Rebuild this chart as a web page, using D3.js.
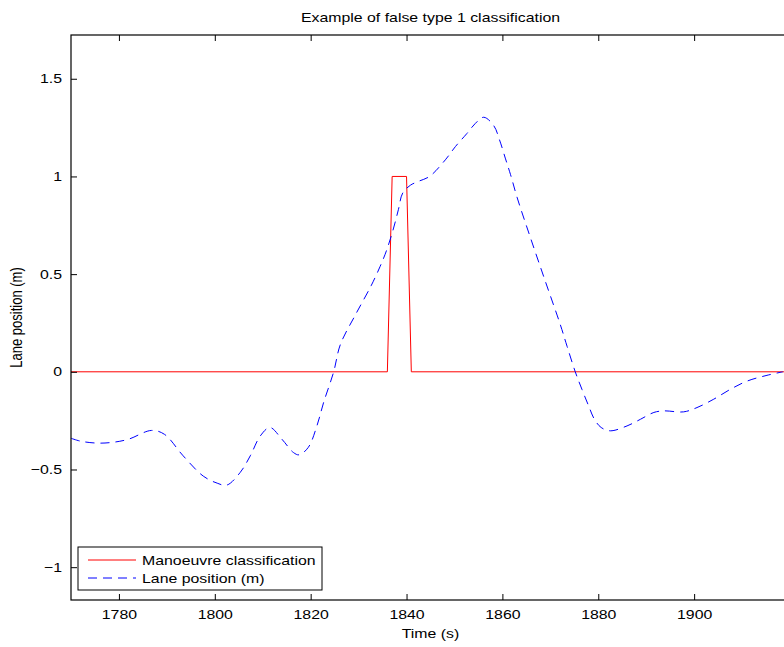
<!DOCTYPE html>
<html>
<head>
<meta charset="utf-8">
<script src="https://cdn.jsdelivr.net/npm/d3@7"></script>
<style>
  html, body { margin: 0; padding: 0; background: #fff; }
  svg { display: block; font-family: "Liberation Sans", Arial, Helvetica, sans-serif; }
</style>
</head>
<body>
<svg id="chart" width="784" height="647"></svg>
<script>
// Manoeuvre classification (0/1), given at its change points (1 s sampling)
const classTimes  = [1770, 1836, 1837, 1840, 1841, 1920];
const classValues = [0, 0, 1, 1, 0, 0];

// Lateral lane position (m) over time (s)
const laneTimes = [1770, 1772, 1775.6, 1779, 1782, 1786.8, 1789.5, 1793.4, 1797.6, 1800.5, 1802.5,
  1805.3, 1807.4, 1809.5, 1811.5, 1814, 1816.4, 1817.6, 1819.5, 1821.3, 1822.7, 1824.8,
  1826.2, 1829.3, 1832.6, 1834.5, 1835.9, 1837.3, 1838.3, 1839.2, 1840.8, 1842.5, 1844.8,
  1848.1, 1850.2, 1852.6, 1854.3, 1856.1, 1858.2, 1859.4, 1860.6, 1861.7, 1863.1, 1865.8,
  1869, 1872.1, 1873.5, 1875.2, 1876.6, 1878, 1879.2, 1880.6, 1882.5, 1886, 1888.8, 1891.6,
  1893.7, 1897.8, 1900.6, 1904.1, 1907.6, 1911.1, 1915.2, 1918.5];
const laneValues = [-0.34, -0.355, -0.365, -0.36, -0.345, -0.30, -0.32, -0.43, -0.534, -0.57, -0.58,
  -0.515, -0.43, -0.328, -0.285, -0.345, -0.413, -0.425, -0.387, -0.277, -0.157, 0,
  0.14, 0.29, 0.44, 0.54, 0.626, 0.736, 0.83, 0.915, 0.955, 0.975, 1.0,
  1.085, 1.153, 1.22, 1.27, 1.303, 1.26, 1.187, 1.094, 1.009, 0.89, 0.69,
  0.46, 0.24, 0.13, 0, -0.09, -0.175, -0.243, -0.285, -0.302, -0.277, -0.243, -0.208,
  -0.2, -0.205, -0.183, -0.14, -0.089, -0.047, -0.018, 0];

const xTicks = [1780, 1800, 1820, 1840, 1860, 1880, 1900];
const yTicks = [-1, -0.5, 0, 0.5, 1, 1.5];
const yTickLabels = ["\u22121", "\u22120.5", "0", "0.5", "1", "1.5"];

const titleText = "Example of false type 1 classification";
const xLabel = "Time (s)";
const yLabel = "Lane position (m)";
const legendLabels = ["Manoeuvre classification", "Lane position (m)"];

const svg = d3.select("#chart");
const box = { left: 71, right: 790, top: 35, bottom: 600 };

// Text is drawn slightly widened horizontally, like the figure's typeface
const fontSize = 13;
const stretch = 1.22;

const x = d3.scaleLinear().domain([1770, 1920]).range([box.left, box.right]);
const y = d3.scaleLinear().domain([-1.168, 1.724]).range([box.bottom, box.top]);

// Clip region for the plotted series
svg.append("defs").append("clipPath").attr("id", "plotClip")
  .append("rect").attr("x", box.left).attr("y", box.top)
  .attr("width", box.right - box.left).attr("height", box.bottom - box.top);

const plot = svg.append("g").attr("clip-path", "url(#plotClip)");

const line = d3.line().x(d => x(d[0])).y(d => y(d[1]));

plot.append("path")
  .datum(classTimes.map((t, i) => [t, classValues[i]]))
  .attr("d", line)
  .attr("fill", "none")
  .attr("stroke", "#ff0000")
  .attr("stroke-width", 1);

plot.append("path")
  .datum(laneTimes.map((t, i) => [t, laneValues[i]]))
  .attr("d", line.curve(d3.curveCatmullRom.alpha(0.5)))
  .attr("fill", "none")
  .attr("stroke", "#0000ff")
  .attr("stroke-width", 1)
  .attr("stroke-dasharray", "9,6");

// Axes: ticks inward on all four sides
const tickLen = 6;

const xAxisB = d3.axisBottom(x).tickValues(xTicks).tickSize(-tickLen).tickPadding(10)
  .tickFormat(d3.format("d"));
const xAxisT = d3.axisTop(x).tickValues(xTicks).tickSize(-tickLen).tickFormat("");
const yAxisL = d3.axisLeft(y).tickValues(yTicks).tickSize(-tickLen).tickPadding(9 / stretch)
  .tickFormat((d, i) => yTickLabels[i]);
const yAxisR = d3.axisRight(y).tickValues(yTicks).tickSize(-tickLen).tickFormat("");

function styleAxis(g) {
  g.select(".domain").remove();
  g.selectAll(".tick line").attr("stroke", "#000").attr("stroke-width", 1);
  g.selectAll(".tick text").attr("fill", "#000").attr("font-size", fontSize)
    .attr("font-family", "Liberation Sans, Arial, sans-serif")
    .attr("transform", `scale(${stretch},1)`);
}

svg.append("g").attr("transform", `translate(0,${box.bottom})`).call(xAxisB).call(styleAxis);
svg.append("g").attr("transform", `translate(0,${box.top})`).call(xAxisT).call(styleAxis);
svg.append("g").attr("transform", `translate(${box.left},0)`).call(yAxisL).call(styleAxis);
svg.append("g").attr("transform", `translate(${box.right},0)`).call(yAxisR).call(styleAxis);

// Axes box
svg.append("rect")
  .attr("x", box.left).attr("y", box.top)
  .attr("width", box.right - box.left).attr("height", box.bottom - box.top)
  .attr("fill", "none").attr("stroke", "#000").attr("stroke-width", 1.2);

// Title and axis labels
const midX = (box.left + box.right) / 2;
svg.append("text")
  .attr("transform", `translate(${midX},22) scale(${stretch},1)`)
  .attr("text-anchor", "middle").attr("font-size", fontSize)
  .text(titleText);

svg.append("text")
  .attr("transform", `translate(${midX},638) scale(${stretch},1)`)
  .attr("text-anchor", "middle").attr("font-size", fontSize)
  .text(xLabel);

svg.append("text")
  .attr("transform", `translate(22,${(box.top + box.bottom) / 2}) scale(${stretch},1) rotate(-90)`)
  .attr("text-anchor", "middle").attr("font-size", fontSize)
  .text(yLabel);

// Legend
const legend = svg.append("g").attr("transform", "translate(78,547)");
legend.append("rect")
  .attr("x", 0).attr("y", 0).attr("width", 244).attr("height", 43)
  .attr("fill", "#fff").attr("stroke", "#000").attr("stroke-width", 1);

const legendStyles = [
  { color: "#ff0000", dash: null },
  { color: "#0000ff", dash: "9,6" }
];
legendLabels.forEach((lab, i) => {
  const yy = 13 + i * 18;
  legend.append("line")
    .attr("x1", 10).attr("x2", 58).attr("y1", yy).attr("y2", yy)
    .attr("stroke", legendStyles[i].color).attr("stroke-width", 1)
    .attr("stroke-dasharray", legendStyles[i].dash);
  legend.append("text")
    .attr("transform", `translate(64,${yy}) scale(${stretch},1)`)
    .attr("dy", "0.35em")
    .attr("font-size", fontSize)
    .text(lab);
});
</script>
</body>
</html>
